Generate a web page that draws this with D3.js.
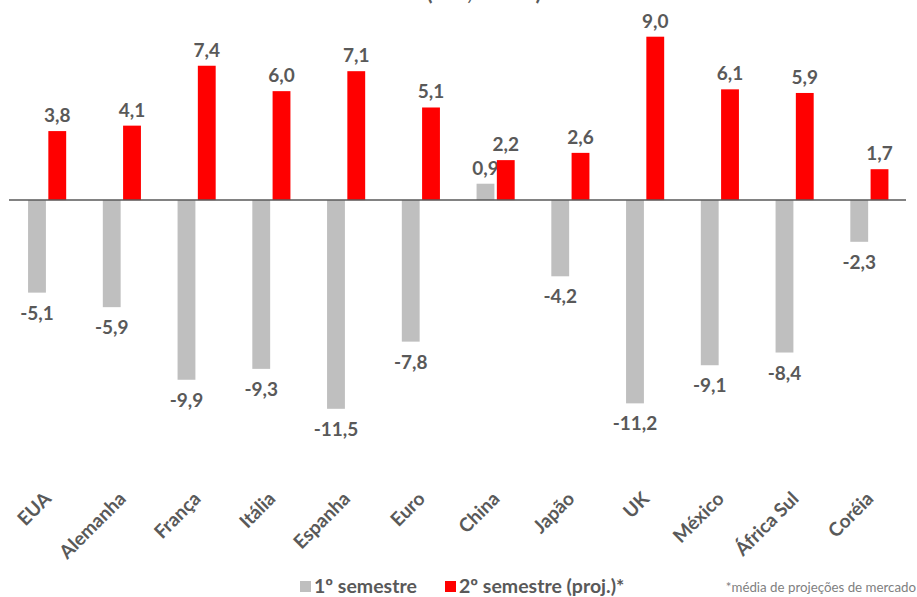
<!DOCTYPE html>
<html>
<head>
<meta charset="utf-8">
<script src="https://cdn.jsdelivr.net/npm/d3@7"></script>
<style>
  html, body { margin: 0; padding: 0; background: #fff; }
  svg { display: block; }
  text { font-family: Lato, "Open Sans", sans-serif; }
</style>
</head>
<body>
<svg id="chart" width="917" height="597"></svg>
<script>
// Growth by country: first half vs. second half (projection)
const categories = ["EUA", "Alemanha", "França", "Itália", "Espanha", "Euro",
                    "China", "Japão", "UK", "México", "África Sul", "Coréia"];
const semestre1 = [-5.1, -5.9, -9.9, -9.3, -11.5, -7.8, 0.9, -4.2, -11.2, -9.1, -8.4, -2.3];
const semestre2 = [3.8, 4.1, 7.4, 6.0, 7.1, 5.1, 2.2, 2.6, 9.0, 6.1, 5.9, 1.7];
const seriesNames = ["1º semestre", "2º semestre (proj.)*"];
const seriesColors = ["#BFBFBF", "#FF0000"];
const footnote = "*média de projeções de mercado";
const title = "(PIB, var. %)";

const svg = d3.select("#chart");
const textColor = "#595959";

const x = d3.scaleBand().domain(categories).range([9, 906]).paddingInner(0).paddingOuter(0);
const y = d3.scaleLinear().domain([-11.5, 9.0]).range([408.8, 36.7]);

const sub = d3.scaleBand().domain([0, 1]).range([x.bandwidth() * 0.255, x.bandwidth() * 0.765]).paddingInner(0.12);

const fmt = v => d3.format(".1f")(v).replace(".", ",").replace("−", "-");

// title (upper part falls outside the view)
svg.append("text")
  .attr("x", 484).attr("y", 0)
  .attr("text-anchor", "middle")
  .attr("font-size", 22).attr("font-weight", 700)
  .attr("fill", textColor)
  .text(title);

const series = [semestre1, semestre2];
series.forEach((vals, si) => {
  const g = svg.append("g");
  g.selectAll("rect").data(vals).join("rect")
    .attr("x", (d, i) => x(categories[i]) + sub(si))
    .attr("width", sub.bandwidth())
    .attr("y", d => y(Math.max(0, d)))
    .attr("height", d => Math.abs(y(d) - y(0)))
    .attr("fill", seriesColors[si]);
  g.selectAll("text").data(vals).join("text")
    .attr("x", (d, i) => x(categories[i]) + sub(si) + sub.bandwidth() / 2)
    .attr("y", d => d >= 0 ? y(d) - 9 : y(d) + 27)
    .attr("text-anchor", "middle")
    .attr("font-size", 19).attr("font-weight", 700)
    .attr("fill", textColor)
    .text(d => fmt(d));
});

// zero line
svg.append("line")
  .attr("x1", 9).attr("x2", 906)
  .attr("y1", y(0)).attr("y2", y(0))
  .attr("stroke", "#595959").attr("stroke-width", 1.5);

// category labels
svg.append("g").selectAll("text").data(categories).join("text")
  .attr("transform", d => `translate(${x(d) + x.bandwidth() / 2 + 6},${500}) rotate(-45)`)
  .attr("text-anchor", "end")
  .attr("font-size", 19).attr("font-weight", 700)
  .attr("fill", textColor)
  .text(d => d);

// legend
const legendX = [300, 445];
seriesNames.forEach((name, i) => {
  svg.append("rect")
    .attr("x", legendX[i]).attr("y", 581)
    .attr("width", 11).attr("height", 11)
    .attr("fill", seriesColors[i]);
  svg.append("text")
    .attr("x", legendX[i] + 14).attr("y", 593)
    .attr("font-size", 19.5).attr("font-weight", 700)
    .attr("fill", textColor)
    .text(name);
});

svg.append("text")
  .attr("x", 916).attr("y", 592)
  .attr("text-anchor", "end")
  .attr("font-size", 13.3)
  .attr("fill", "#7F7F7F")
  .text(footnote);
</script>
</body>
</html>
